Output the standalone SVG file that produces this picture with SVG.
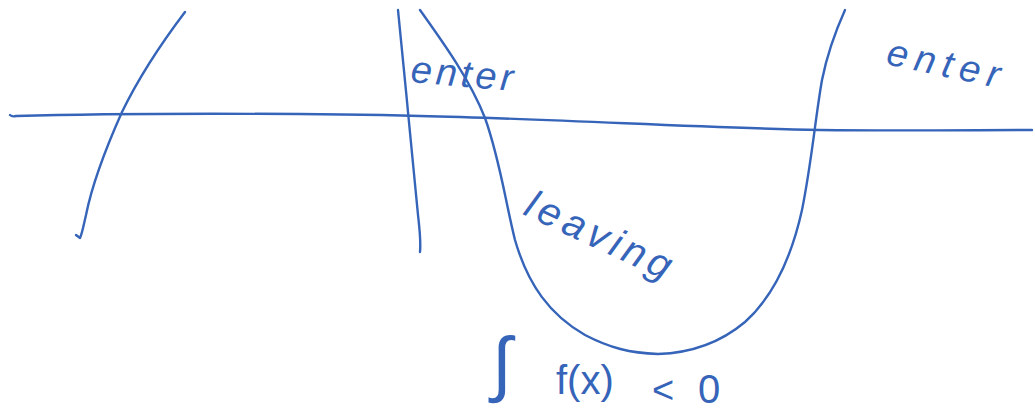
<svg xmlns="http://www.w3.org/2000/svg" width="1035" height="412" viewBox="0 0 1035 412">
<style>
.ink{fill:none;stroke:#3564b9;stroke-width:2.4;stroke-linecap:round;stroke-linejoin:round}
.hw{fill:#3564b9;font-family:"Liberation Sans","DejaVu Sans",sans-serif;font-style:italic}
.up{font-style:normal}
</style>
<rect width="1035" height="412" fill="#ffffff"/>
<g id="connectors">
<path id="axis" class="ink" d="M10,115 Q12,117 16,116 C120,113 300,113 420,116 C560,119 700,128 820,130 C900,131 980,130 1032,130"/>
<path id="left-curve" class="ink" d="M185,12 C160,45 140,75 122,112 C105,150 92,185 86,215 C83,228 82,234 80,238 L76,235"/>
<path id="vertical-line" class="ink" d="M398,10 C402,50 405,80 408,112 C412,150 415,185 418,215 C420,232 421,242 420,252"/>
<path id="u-curve" class="ink" d="M420,10 C445,45 470,80 485,118 C500,160 505,200 515,240 C528,285 550,315 585,335 C610,348 630,353 658,354 C690,353 720,343 745,322 C775,295 792,255 802,210 C812,160 815,120 822,80 C828,50 836,30 845,10"/>
</g>
<g id="label-enter-1"><text class="hw" x="410" y="82" font-size="38" letter-spacing="4" transform="rotate(5 410 82)">enter</text></g>
<g id="label-enter-2"><text class="hw" x="885" y="64" font-size="38" letter-spacing="7" transform="rotate(12 885 64)">enter</text></g>
<g id="label-leaving"><text class="hw" x="522" y="214" font-size="40" letter-spacing="5" transform="rotate(25 522 214)">leaving</text></g>
<g id="label-integral">
<text class="hw up" x="492" y="388" font-size="72">∫</text>
<text class="hw up" x="556" y="394" font-size="40">f(x)</text>
<text class="hw up" x="652" y="403" font-size="38">&lt;</text>
<text class="hw up" x="698" y="403" font-size="40">0</text>
</g>
</svg>
